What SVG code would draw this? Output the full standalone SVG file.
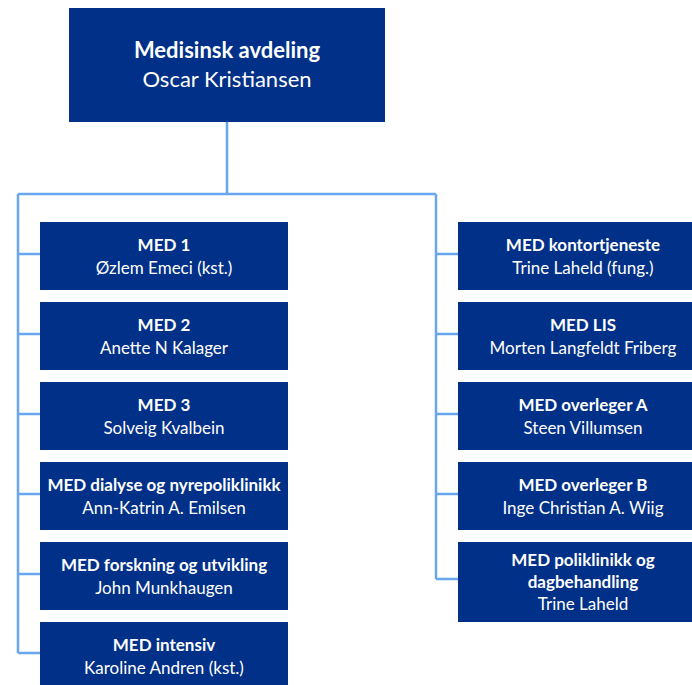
<svg xmlns="http://www.w3.org/2000/svg" width="692" height="685" viewBox="0 0 692 685">
<style>
.box{fill:#013088}
.t{font-family:Lato,"Open Sans",sans-serif;fill:#fff;text-anchor:middle;font-size:17px}
.b{font-weight:bold}
.big{font-size:22px}
.ln{stroke:#6aa5f0;stroke-width:2.5;fill:none}
</style>
<rect width="692" height="685" fill="#fff"/>
<g id="connectors">
<path class="ln" d="M227 122V194M18 194H436M18 194V653M436 194V579"/>
<path class="ln" d="M18 254H40M18 334H40M18 414H40M18 494H40M18 574H40M18 653H40"/>
<path class="ln" d="M436 254H458M436 334H458M436 414H458M436 494H458M436 579H458"/>
</g>
<g id="top"><rect class="box" x="69" y="8" width="316" height="114"/>
<text class="t b big" x="227" y="58">Medisinsk avdeling</text>
<text class="t big" x="227" y="87">Oscar Kristiansen</text></g>
<g id="med1"><rect class="box" x="40" y="222" width="248" height="68"/>
<text class="t b" x="164" y="251">MED 1</text><text class="t" x="164" y="274">Øzlem Emeci (kst.)</text></g>
<g id="med2"><rect class="box" x="40" y="302" width="248" height="68"/>
<text class="t b" x="164" y="331">MED 2</text><text class="t" x="164" y="354">Anette N Kalager</text></g>
<g id="med3"><rect class="box" x="40" y="382" width="248" height="68"/>
<text class="t b" x="164" y="411">MED 3</text><text class="t" x="164" y="434">Solveig Kvalbein</text></g>
<g id="dialyse"><rect class="box" x="40" y="462" width="248" height="68"/>
<text class="t b" x="164" y="491">MED dialyse og nyrepoliklinikk</text><text class="t" x="164" y="514">Ann-Katrin A. Emilsen</text></g>
<g id="forskning"><rect class="box" x="40" y="542" width="248" height="68"/>
<text class="t b" x="164" y="571">MED forskning og utvikling</text><text class="t" x="164" y="594">John Munkhaugen</text></g>
<g id="intensiv"><rect class="box" x="40" y="622" width="248" height="63"/>
<text class="t b" x="164" y="651">MED intensiv</text><text class="t" x="164" y="674">Karoline Andren (kst.)</text></g>
<g id="kontor"><rect class="box" x="458" y="222" width="250" height="68"/>
<text class="t b" x="583" y="251">MED kontortjeneste</text><text class="t" x="583" y="274">Trine Laheld (fung.)</text></g>
<g id="lis"><rect class="box" x="458" y="302" width="250" height="68"/>
<text class="t b" x="583" y="331">MED LIS</text><text class="t" x="583" y="354">Morten Langfeldt Friberg</text></g>
<g id="overlegerA"><rect class="box" x="458" y="382" width="250" height="68"/>
<text class="t b" x="583" y="411">MED overleger A</text><text class="t" x="583" y="434">Steen Villumsen</text></g>
<g id="overlegerB"><rect class="box" x="458" y="462" width="250" height="68"/>
<text class="t b" x="583" y="491">MED overleger B</text><text class="t" x="583" y="514">Inge Christian A. Wiig</text></g>
<g id="poliklinikk"><rect class="box" x="458" y="542" width="250" height="80"/>
<text class="t b" x="583" y="566">MED poliklinikk og</text><text class="t b" x="583" y="588">dagbehandling</text><text class="t" x="583" y="610">Trine Laheld</text></g>
</svg>
